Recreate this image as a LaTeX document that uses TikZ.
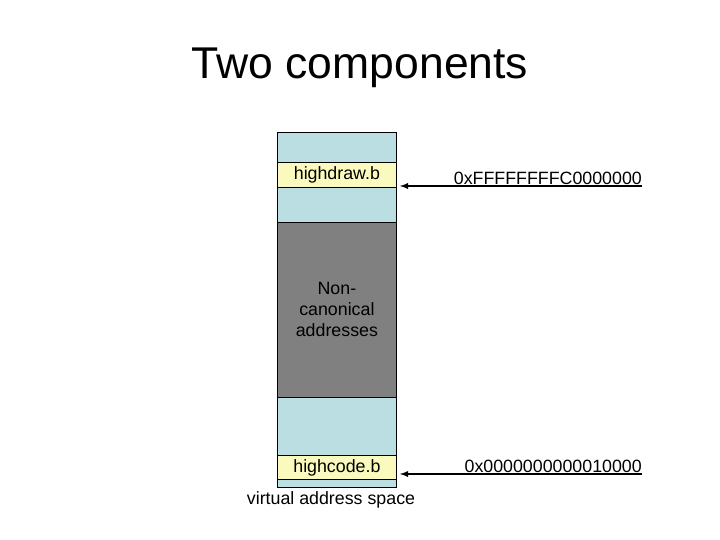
\documentclass[tikz,border=0pt]{standalone}
\usepackage{fontspec}
\setmainfont{Liberation Sans}
\definecolor{lblue}{RGB}{187,222,226}
\definecolor{lyel}{RGB}{250,250,190}
\definecolor{dgray}{RGB}{128,128,128}
\begin{document}
\begin{tikzpicture}[x=1pt,y=-1pt,
  seg/.style={draw=black,line width=0.8pt,minimum width=119pt,inner sep=0pt,anchor=north west,font=\fontsize{17.8}{21}\selectfont},
  lbl/.style={font=\fontsize{17.8}{21}\selectfont,inner sep=0pt},
  arr/.style={-latex,line width=1.8pt}]
\useasboundingbox[fill=white] (0,0) rectangle (720,540);
\node[lbl,font=\fontsize{44.5}{52}\selectfont] (title) at (360,68) {Two components};
\node[seg,fill=lblue,minimum height=30pt] (s1) at (277,132) {};
\node[seg,fill=lyel,minimum height=25pt] (hd) at (277,162) {highdraw.b};
\node[seg,fill=lblue,minimum height=35pt] (s2) at (277,187) {};
\node[seg,fill=dgray,minimum height=175pt,align=center] (nc) at (277,222) {Non-\\canonical\\addresses};
\node[seg,fill=lblue,minimum height=58pt] (s3) at (277,397) {};
\node[seg,fill=lyel,minimum height=24pt] (hc) at (277,455) {highcode.b};
\node[seg,fill=lblue,minimum height=8pt] (s4) at (277,479) {};
\node[lbl] (vas) at (331,500) {virtual address space};
\coordinate (e1) at (642,186);
\coordinate (t1) at (400,186);
\coordinate (e2) at (642,474);
\coordinate (t2) at (400,474);
\node[lbl,anchor=south east] (a1) at (642,185) {0xFFFFFFFFC0000000};
\node[lbl,anchor=south east] (a2) at (642,473) {0x0000000000010000};
\draw[arr] (e1) -- (t1);
\draw[arr] (e2) -- (t2);
\end{tikzpicture}
\end{document}
